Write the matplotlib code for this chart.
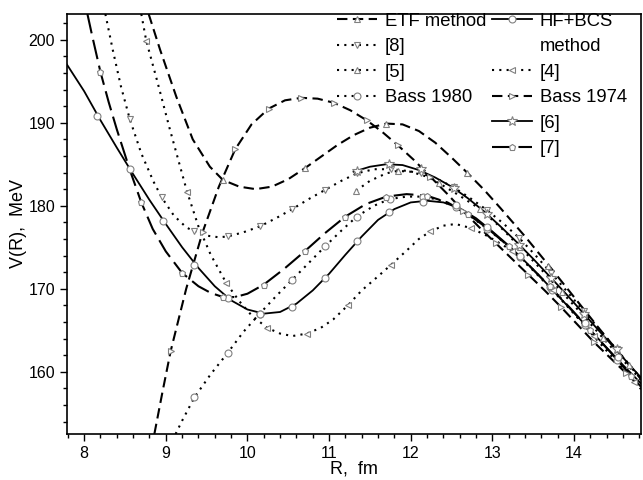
import matplotlib
matplotlib.use("Agg")
import matplotlib.pyplot as plt
from matplotlib.lines import Line2D
from matplotlib.ticker import MultipleLocator

plt.rcParams['font.family'] = ['Liberation Sans', 'DejaVu Sans']

# ---------------- data ----------------
# ETF method (dashed, triangle up)
etf_x = [8.79, 8.93, 9.13, 9.33, 9.54, 9.70, 9.9, 10.1, 10.3, 10.5, 10.7, 10.9, 11.1, 11.3, 11.5,
         11.7, 11.9, 12.1, 12.3, 12.5, 12.7, 12.9, 13.1, 13.4, 13.7, 14.0, 14.3, 14.6, 14.82]
etf_y = [203.1, 198.8, 193.1, 188.0, 184.7, 183.1, 182.3, 182.0, 182.3, 183.2, 184.5, 185.9, 187.3, 188.5, 189.4,
         189.9, 189.8, 189.0, 187.6, 185.8, 183.9, 181.9, 179.7, 176.3, 172.7, 169.0, 165.3, 161.7, 159.1]
etf_mx = [9.70, 10.70, 11.70, 12.69, 13.68, 14.67]
etf_my = [183.1, 184.5, 189.9, 184.0, 172.8, 160.8]

# HF+BCS method (solid, circles)
hf_x = [7.79, 8.0, 8.2, 8.4, 8.6, 8.8, 9.0, 9.2, 9.4, 9.6, 9.8, 10.0, 10.2, 10.4, 10.6, 10.8, 11.0,
        11.2, 11.4, 11.6, 11.8, 12.0, 12.2, 12.4, 12.6, 12.8, 13.0, 13.2, 13.4, 13.6, 13.8, 14.0,
        14.2, 14.4, 14.6, 14.82]
hf_y = [197.0, 193.8, 190.3, 187.0, 183.8, 180.7, 177.8, 175.0, 172.5, 170.3, 168.6, 167.5, 167.0, 167.2,
        168.2, 169.8, 171.8, 174.1, 176.3, 178.3, 179.6, 180.4, 180.6, 180.4, 179.7, 178.5, 176.9, 175.2,
        173.3, 171.3, 169.2, 167.1, 165.0, 162.9, 160.8, 158.6]
hf_mx = [8.16, 8.56, 8.96, 9.35, 9.76, 10.15, 10.55, 10.95, 11.34, 11.73, 12.15, 12.55, 12.94, 13.34,
         13.71, 14.13, 14.54]
hf_my = [190.8, 184.4, 178.2, 172.9, 168.9, 167.0, 167.8, 171.3, 175.7, 179.2, 180.5, 180.1, 177.4, 174.0,
         170.2, 165.9, 161.8]

# [8] (dotted, triangle down)
r8_x = [8.26, 8.35, 8.45, 8.56, 8.7, 8.85, 8.95, 9.1, 9.25, 9.35, 9.5, 9.65, 9.76, 9.95, 10.15, 10.35,
        10.55, 10.75, 10.95, 11.15, 11.34, 11.55, 11.76, 11.95, 12.13, 12.33, 12.53, 12.73, 12.93, 13.13,
        13.33, 13.53, 13.72, 13.92, 14.12, 14.32, 14.52, 14.82]
r8_y = [203.1, 198.8, 194.4, 190.4, 186.3, 182.9, 181.0, 178.8, 177.4, 176.9, 176.4, 176.2, 176.3, 176.8,
        177.5, 178.5, 179.6, 180.8, 181.9, 183.0, 183.9, 184.4, 184.4, 184.2, 183.9, 183.2, 182.2, 180.9,
        179.5, 177.9, 176.1, 174.0, 171.9, 169.6, 167.3, 165.0, 162.7, 159.2]
r8_mx = [8.56, 8.95, 9.35, 9.76, 10.15, 10.55, 10.95, 11.34, 11.76, 12.13, 12.53, 12.93, 13.33, 13.72,
         14.12, 14.52]
r8_my = [190.4, 181.0, 176.9, 176.3, 177.5, 179.6, 181.9, 183.9, 184.4, 183.9, 182.2, 179.5, 176.1, 171.9,
         167.3, 162.7]

# [5] (dotted, triangle up)
r5_x = [11.33, 11.5, 11.7, 11.84, 12.0, 12.2, 12.4, 12.6, 12.85, 13.1, 13.34, 13.6, 13.85, 14.1, 14.35,
        14.6, 14.82]
r5_y = [181.8, 183.0, 183.9, 184.2, 184.1, 183.5, 182.4, 181.2, 179.6, 177.4, 175.0, 172.3, 169.6, 166.9,
        164.1, 161.4, 159.0]
r5_mx = [11.33, 11.84, 12.35, 12.85, 13.34, 13.85, 14.35]
r5_my = [181.8, 184.2, 182.7, 179.6, 175.0, 169.6, 164.1]

# [4] (dotted, triangle left)
r4_x = [8.70, 8.76, 8.89, 9.05, 9.26, 9.4, 9.55, 9.74, 9.9, 10.05, 10.24, 10.4, 10.55, 10.73, 10.9, 11.05,
        11.23, 11.4, 11.6, 11.76, 11.95, 12.1, 12.24, 12.4, 12.55, 12.74, 12.95, 13.24, 13.5, 13.74, 14.0,
        14.24, 14.5, 14.74, 14.82]
r4_y = [203.1, 199.9, 195.2, 189.2, 181.7, 177.5, 174.1, 170.7, 168.5, 166.8, 165.3, 164.6, 164.3, 164.6,
        165.3, 166.3, 168.0, 169.8, 171.5, 172.9, 174.6, 176.0, 176.9, 177.6, 177.8, 177.3, 176.3, 174.6,
        172.2, 169.8, 167.0, 164.3, 161.4, 158.8, 157.9]
r4_mx = [8.76, 9.26, 9.74, 10.24, 10.73, 11.23, 11.76, 12.24, 12.74, 13.24, 13.74, 14.24, 14.74]
r4_my = [199.9, 181.7, 170.7, 165.3, 164.6, 168.0, 172.9, 176.9, 177.3, 174.6, 169.8, 164.3, 158.8]

# Bass 1980 (dotted, circles)
b80_x = [9.12, 9.2, 9.35, 9.55, 9.76, 9.95, 10.15, 10.35, 10.55, 10.75, 10.95, 11.15, 11.34, 11.55, 11.74,
         11.95, 12.15, 12.35, 12.55, 12.75, 12.94, 13.14, 13.34, 13.54, 13.73, 13.93, 14.13, 14.33, 14.53,
         14.82]
b80_y = [152.5, 154.1, 156.9, 159.7, 162.3, 164.8, 167.0, 169.1, 171.1, 173.1, 175.1, 177.0, 178.7, 180.0,
         180.8, 181.1, 181.1, 180.7, 179.8, 178.6, 177.2, 175.6, 173.8, 171.9, 169.9, 167.8, 165.6, 163.5,
         161.4, 158.2]
b80_mx = [9.35, 9.76, 10.15, 10.55, 10.95, 11.34, 11.74, 12.15, 12.55, 12.94, 13.34, 13.73, 14.13, 14.53]
b80_my = [156.9, 162.3, 167.0, 171.1, 175.1, 178.7, 180.8, 181.1, 179.8, 177.2, 173.8, 169.9, 165.6, 161.4]

# Bass 1974 (dashed, triangle right)
b74_x = [8.86, 8.96, 9.06, 9.25, 9.45, 9.65, 9.85, 10.05, 10.26, 10.46, 10.66, 10.86, 11.06, 11.26, 11.46,
         11.65, 11.84, 12.04, 12.24, 12.44, 12.64, 12.84, 13.04, 13.24, 13.44, 13.64, 13.84, 14.04, 14.24,
         14.44, 14.64, 14.82]
b74_y = [152.5, 157.6, 162.5, 170.0, 176.8, 182.3, 186.8, 189.8, 191.7, 192.7, 193.0, 192.9, 192.4, 191.5,
         190.3, 188.9, 187.3, 185.5, 183.5, 181.5, 179.4, 177.4, 175.5, 173.6, 171.7, 169.8, 167.8, 165.7,
         163.6, 161.7, 159.8, 158.1]
b74_mx = [9.06, 9.45, 9.85, 10.26, 10.66, 11.06, 11.46, 11.84, 12.24, 12.64, 13.04, 13.44, 13.84, 14.24, 14.64]
b74_my = [162.5, 176.8, 186.8, 191.7, 193.0, 192.4, 190.3, 187.3, 183.5, 179.4, 175.5, 171.7, 167.8, 163.6, 159.8]

# [6] (solid, stars)
r6_x = [11.3, 11.5, 11.7, 11.9, 12.1, 12.3, 12.5, 12.7, 12.9, 13.1, 13.3, 13.5, 13.7, 13.9, 14.1, 14.3,
        14.5, 14.7, 14.82]
r6_y = [184.1, 184.7, 185.0, 184.9, 184.3, 183.4, 182.3, 180.9, 179.3, 177.5, 175.6, 173.6, 171.5, 169.4,
        167.2, 165.0, 162.8, 160.6, 159.3]
r6_mx = [11.34, 11.73, 12.13, 12.53, 12.93, 13.33, 13.72, 14.12, 14.52]
r6_my = [184.2, 185.0, 184.4, 182.1, 179.0, 175.3, 171.3, 167.0, 162.8]

# [7] (long dash, pentagons)
r7_x = [8.04, 8.1, 8.2, 8.3, 8.4, 8.56, 8.7, 8.84, 9.0, 9.2, 9.4, 9.55, 9.7, 9.85, 10.0, 10.2, 10.45,
        10.7, 10.95, 11.2, 11.45, 11.7, 11.95, 12.2, 12.45, 12.7, 12.95, 13.2, 13.45, 13.7, 13.95, 14.2,
        14.45, 14.7, 14.82]
r7_y = [203.1, 200.4, 196.1, 192.5, 189.2, 184.3, 180.4, 177.2, 174.5, 171.9, 170.3, 169.5, 169.0, 169.0,
        169.4, 170.5, 172.4, 174.5, 176.7, 178.7, 180.2, 181.1, 181.4, 181.2, 180.4, 179.0, 177.2, 175.1,
        172.8, 170.3, 167.7, 165.0, 162.3, 159.5, 158.2]
r7_mx = [8.2, 8.7, 9.2, 9.7, 10.2, 10.7, 11.2, 11.7, 12.2, 12.7, 13.2, 13.7, 14.2, 14.7]
r7_my = [196.1, 180.4, 171.9, 169.0, 170.5, 174.5, 178.7, 181.1, 181.2, 179.0, 175.1, 170.3, 165.0, 159.5]

x_ticks = [8, 9, 10, 11, 12, 13, 14]
y_ticks = [160, 170, 180, 190, 200]

# ---------------- styling ----------------
MEC = '#808080'
DASH = (0, (5.0, 2.6))
LDASH = (0, (9.5, 3.2))
DOT = (0, (1.0, 2.5))

series = [
    # name, x, y, mx, my, linestyle, marker, lw
    ('ETF method', etf_x, etf_y, etf_mx, etf_my, DASH, '^', 1.5),
    ('[8]', r8_x, r8_y, r8_mx, r8_my, DOT, 'v', 1.5),
    ('[5]', r5_x, r5_y, r5_mx, r5_my, DOT, '^', 1.5),
    ('Bass 1980', b80_x, b80_y, b80_mx, b80_my, DOT, 'o', 1.5),
    ('HF+BCS', hf_x, hf_y, hf_mx, hf_my, '-', 'o', 1.3),
    ('[4]', r4_x, r4_y, r4_mx, r4_my, DOT, '<', 1.5),
    ('Bass 1974', b74_x, b74_y, b74_mx, b74_my, DASH, '>', 1.5),
    ('[6]', r6_x, r6_y, r6_mx, r6_my, '-', '*', 1.3),
    ('[7]', r7_x, r7_y, r7_mx, r7_my, LDASH, 'p', 1.5),
]

fig = plt.figure(figsize=(6.43, 4.80), dpi=100)
ax = fig.add_axes([67 / 643, 1 - 434 / 480, (641 - 67) / 643, (434 - 14) / 480])

handles = {}
for name, x, y, mx, my, ls, mk, lw in series:
    ax.plot(x, y, color='black', linestyle=ls, linewidth=lw, zorder=2)
    ms = 7 if mk == '*' else 5
    ax.plot(mx, my, linestyle='none', marker=mk, markersize=ms, markerfacecolor='white',
            markeredgecolor=MEC, markeredgewidth=0.8, zorder=3)
    handles[name] = Line2D([], [], color='black', linestyle=ls, linewidth=lw, marker=mk,
                           markersize=ms, markerfacecolor='white', markeredgecolor=MEC,
                           markeredgewidth=0.8)

ax.set_xlim(7.79, 14.82)
ax.set_ylim(152.5, 203.1)
ax.set_xticks(x_ticks)
ax.set_yticks(y_ticks)
ax.xaxis.set_minor_locator(MultipleLocator(0.2))
ax.yaxis.set_minor_locator(MultipleLocator(2))
ax.tick_params(which='major', direction='out', length=5, width=1.0, labelsize=11.5,
               top=False, right=False)
ax.tick_params(which='minor', direction='out', length=3, width=1.0, top=False, right=False)
for s in ax.spines.values():
    s.set_linewidth(1.2)

ax.set_xlabel('R,  fm', fontsize=13, labelpad=0)
ax.set_ylabel('V(R),  MeV', fontsize=13, labelpad=1)

blank = Line2D([], [], linestyle='none')
leg_handles = [handles['ETF method'], handles['[8]'], handles['[5]'], handles['Bass 1980'], blank, blank,
               handles['HF+BCS'], blank, handles['[4]'], handles['Bass 1974'], handles['[6]'], handles['[7]']]
leg_labels = ['ETF method', '[8]', '[5]', 'Bass 1980', '', '',
              'HF+BCS', 'method', '[4]', 'Bass 1974', '[6]', '[7]']
leg = ax.legend(leg_handles, leg_labels, ncol=2, loc='upper left',
                bbox_to_anchor=(333 / 643, 1 - 9 / 480), bbox_transform=fig.transFigure,
                frameon=False, fontsize=13.3, handlelength=2.2, handletextpad=0.4,
                columnspacing=0.3, labelspacing=0.46, borderpad=0.2, borderaxespad=0)

fig.savefig('out.png', dpi=100)
